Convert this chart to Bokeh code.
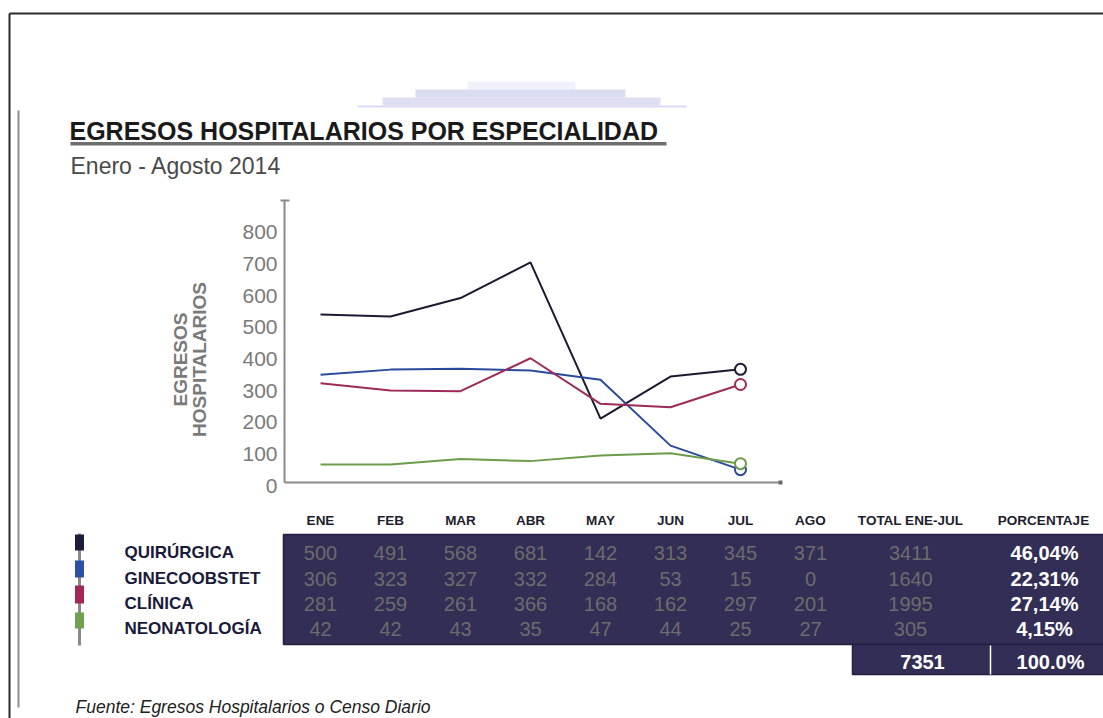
from math import pi
from bokeh.plotting import figure
from bokeh.models import Range1d
from bokeh.core.properties import value
from bokeh.embed import file_html
from bokeh.resources import INLINE

# ---------------- data ----------------
months = ["ENE", "FEB", "MAR", "ABR", "MAY", "JUN", "JUL", "AGO"]
line_months = ["ENE", "FEB", "MAR", "ABR", "MAY", "JUN", "JUL"]
series = ["QUIRÚRGICA", "GINECOOBSTET", "CLÍNICA", "NEONATOLOGÍA"]

# values as plotted by the lines (ENE-JUL)
line_quir = [540, 534, 592, 705, 211, 344, 367]
line_gine = [350, 366, 369, 363, 334, 126, 50]
line_clin = [323, 300, 298, 402, 258, 247, 319]
line_neo = [66, 66, 84, 77, 95, 102, 69]

# values printed in the table (ENE-AGO)
tab_quir = [500, 491, 568, 681, 142, 313, 345, 371]
tab_gine = [306, 323, 327, 332, 284, 53, 15, 0]
tab_clin = [281, 259, 261, 366, 168, 162, 297, 201]
tab_neo = [42, 42, 43, 35, 47, 44, 25, 27]
totals = [3411, 1640, 1995, 305]
percents = ["46,04%", "22,31%", "27,14%", "4,15%"]
grand_total = "7351"
grand_pct = "100.0%"

y_ticks = [0, 100, 200, 300, 400, 500, 600, 700, 800]

colors = ["#1c1a30", "#2b4a9c", "#9e2a58", "#6c9c4a"]
swatch_colors = ["#1e1c3c", "#2c50a4", "#a3285a", "#71a04e"]

FONT = value("Liberation Sans")

# ---------------- layout (page pixel space) ----------------
W, H = 1103, 718
PX0, PY0 = 0, 0
COL0, COLW = 320, 70            # month column centres
ZERO_Y, PX_PER = 485, 0.3166    # chart value scale: pixel y of 0, px per unit

p = figure(width=W, height=H, output_backend="svg", toolbar_location=None,
           x_range=Range1d(PX0, PX0 + W), y_range=Range1d(PY0 + H, PY0),
           x_axis_location=None, y_axis_location=None, min_border=0,
           outline_line_color=None, background_fill_color="white",
           border_fill_color="white")
p.grid.visible = False
p.extra_x_ranges = {"mx": Range1d(start=(PX0 - COL0) / COLW, end=(PX0 + W - COL0) / COLW)}
p.extra_y_ranges = {"val": Range1d(start=(ZERO_Y - (PY0 + H)) / PX_PER, end=(ZERO_Y - PY0) / PX_PER)}

# frame lines
p.segment(x0=[9, 9], y0=[13, 13], x1=[1103, 9], y1=[13, 718], line_color="#2a2a2a", line_width=2)
p.segment(x0=[18], y0=[110], x1=[18], y1=[707], line_color="#8e8e8e", line_width=2)

# faint decoration at top
p.quad(left=[467, 415, 382, 357], right=[575, 625, 660, 686],
       top=[81, 89, 97, 105], bottom=[89, 97, 105, 107],
       fill_color=["#eef0fb", "#d6d8f0", "#dcdcf2", "#d6d6f4"], line_color=None, fill_alpha=0.9)

# title
p.text(x=[69], y=[130], text=["EGRESOS HOSPITALARIOS POR ESPECIALIDAD"], text_font=FONT,
       text_font_style="bold", text_font_size="25px", text_color="#1a1a1a",
       text_align="left", text_baseline="middle")
p.quad(left=[70], right=[666], top=[141.5], bottom=[145], fill_color="#6e6e6e", line_color=None)
p.text(x=[70], y=[165], text=["Enero - Agosto 2014"], text_font=FONT,
       text_font_size="23px", text_color="#4a4a4a", text_align="left", text_baseline="middle")

# chart axes
p.segment(x0=[284, 284, 280], y0=[200, 482, 200], x1=[284, 780, 289], y1=[482, 482, 200],
          line_color="#8a8a8a", line_width=2)
p.quad(left=[778], right=[782], top=[480], bottom=[484], fill_color="#6a6a6a", line_color=None)
p.text(x=[277] * len(y_ticks), y=y_ticks, y_range_name="val", text=[str(t) for t in y_ticks],
       text_font=FONT, text_font_size="21px", text_color="#7a7a7a",
       text_align="right", text_baseline="middle")
p.text(x=[180, 199], y=[359, 359], text=["EGRESOS", "HOSPITALARIOS"], angle=pi / 2,
       text_font=FONT, text_font_style="bold", text_font_size="19px", text_color="#7a7a7a",
       text_align="center", text_baseline="middle")

# lines
lines = [line_quir, line_gine, line_clin, line_neo]
xs = list(range(len(line_months)))
for vals, c in zip(lines, colors):
    p.line(x=xs, y=vals, x_range_name="mx", y_range_name="val", line_color=c, line_width=2)
for vals, c in zip(lines, colors):
    p.scatter(x=[xs[-1]], y=[vals[-1]], x_range_name="mx", y_range_name="val", marker="circle",
              size=11, fill_color="white", line_color=c, line_width=2)

# legend swatches
p.segment(x0=[79], y0=[533], x1=[79], y1=[645], line_color="#8a8a8a", line_width=3)
p.quad(left=[74.5] * 4, right=[83.5] * 4, top=[534, 560, 585, 612], bottom=[550, 577, 603, 628],
       fill_color=swatch_colors, line_color=None)

# table background
p.quad(left=[283, 852], right=[1104, 1104], top=[534, 644], bottom=[644, 674],
       fill_color="#322e56", line_color="#221f40", line_width=1.5)
p.segment(x0=[990], y0=[645], x1=[990], y1=[674], line_color="white", line_width=1.5)

# headers
p.text(x=list(range(len(months))), y=[520] * len(months), x_range_name="mx", text=months,
       text_font=FONT, text_font_style="bold", text_font_size="13.5px", text_color="#1e1e2e",
       text_align="center", text_baseline="middle")
p.text(x=[910, 1043], y=[520, 520], text=["TOTAL ENE-JUL", "PORCENTAJE"],
       text_font=FONT, text_font_style="bold", text_font_size="13.5px", text_color="#1e1e2e",
       text_align="center", text_baseline="middle")

# rows
row_y = [552, 578, 603, 628]
p.text(x=[124] * 4, y=row_y, text=series, text_font=FONT, text_font_style="bold",
       text_font_size="17px", text_color="#1a1a3a", text_align="left", text_baseline="middle")
tabs = [tab_quir, tab_gine, tab_clin, tab_neo]
for ry, vals in zip(row_y, tabs):
    p.text(x=list(range(len(vals))), y=[ry] * len(vals), x_range_name="mx",
           text=[str(v) for v in vals], text_font=FONT, text_font_size="20px",
           text_color="#6c6c6c", text_align="center", text_baseline="middle")
p.text(x=[910] * 4, y=row_y, text=[str(t) for t in totals], text_font=FONT,
       text_font_size="20px", text_color="#6c6c6c", text_align="center", text_baseline="middle")
p.text(x=[1044] * 4, y=row_y, text=percents, text_font=FONT, text_font_style="bold",
       text_font_size="20px", text_color="white", text_align="center", text_baseline="middle")
p.text(x=[922, 1050], y=[661, 661], text=[grand_total, grand_pct], text_font=FONT,
       text_font_style="bold", text_font_size="20px", text_color="white",
       text_align="center", text_baseline="middle")

# source
p.text(x=[75], y=[706], text=["Fuente: Egresos Hospitalarios o Censo Diario"], text_font=FONT,
       text_font_style="italic", text_font_size="17.5px", text_color="#222222",
       text_align="left", text_baseline="middle")

open("out.html", "w").write(file_html(p, INLINE))
